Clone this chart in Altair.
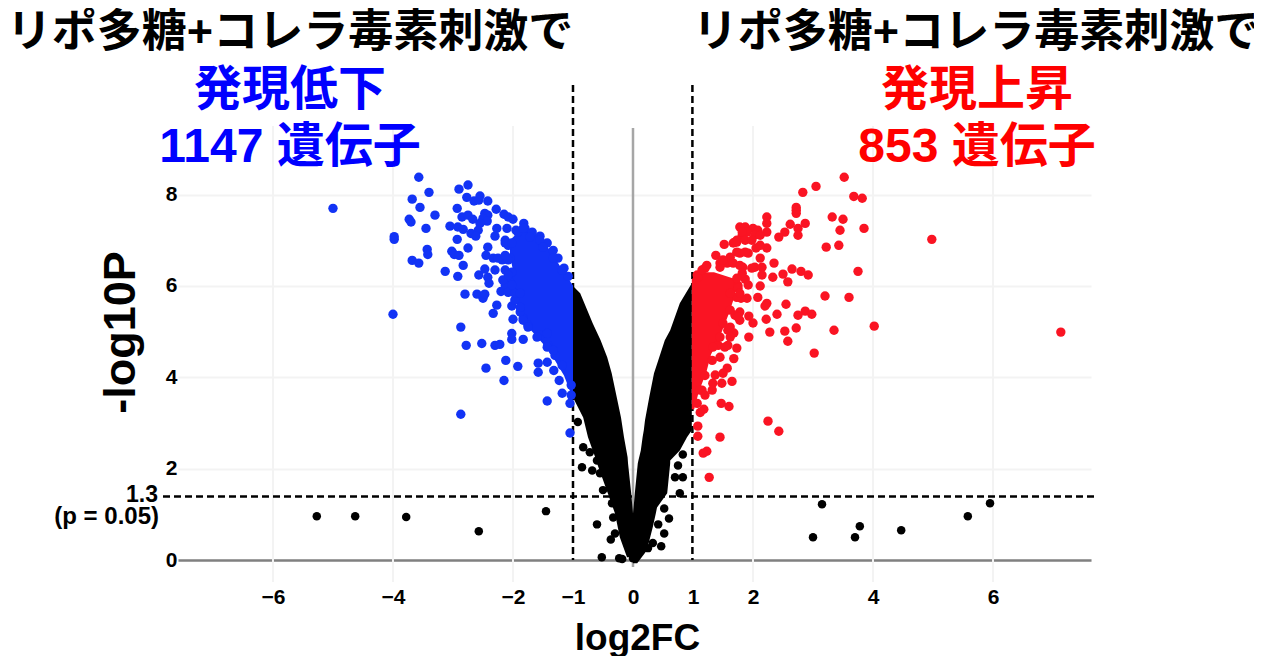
import altair as alt
import pandas as pd

FONT = "Liberation Sans, Noto Sans CJK JP"

# Individually readable points (log2FC, -log10P)
blue_x = [-5.0,-3.57,-3.40,-3.68,-3.55,-3.30,-3.73,-3.70,-3.45,-3.98,-3.98,-3.43,-3.42,-3.68,-3.57,-4.0,-2.87,-2.78,-2.52,-2.30,-2.22,-2.02,-2.02,-1.83,-2.90,-2.75,-2.77,-2.65,-2.55,-2.57,-2.42,-2.93,-2.85,-2.75,-2.67,-2.47,-2.42,-2.50,-2.43,-2.55,-2.58,-2.28,-2.15,-2.08,-2.00,-2.27,-2.30,-2.10,-3.05,-2.92,-2.83,-2.93,-2.70,-2.62,-2.75,-3.02,-2.98,-2.90,-2.42,-2.45,-2.83,-3.13,-2.92,-2.57,-2.47,-2.42,-2.40,-2.30,-2.33,-2.80,-2.60,-2.50,-2.47,-2.20,-2.27,-2.33,-2.02,-2.00,-1.83,-1.82,-2.13,-2.12,-2.45,-1.92,-2.15,-1.58,-1.58,-1.43,-1.32,-1.23,-1.18,-1.43,-1.05,-2.87,-1.05,-1.03,-1.03,-1.80,-1.68,-1.55,-1.43,-1.33,-1.25,-1.15,-1.08,-1.95,-2.08,-2.05,-2.13,-2.05,-2.13,-1.97,-1.88,-1.75,-1.55,-1.42,-1.30,-1.18,
          -2.13,-2.02,-2.18,-2.08,-2.25,-2.13,-2.02,-2.17,-2.08,-2.08,-1.97,-2.02,-1.88,-1.88,-1.83,-1.75,-1.60,-1.43,-1.43,-1.33,-1.92,-1.83,-1.72,-1.55,-1.50,-1.33,-1.18]
blue_y = [7.70,8.38,8.05,7.90,7.72,7.55,7.46,7.40,7.26,7.02,7.08,6.80,6.69,6.56,6.50,5.38,5.10,4.70,4.74,4.70,4.72,4.96,4.83,4.83,8.12,8.21,7.94,7.86,7.97,7.88,7.86,7.70,7.51,7.55,7.46,7.59,7.55,7.48,7.42,7.37,7.22,7.68,7.57,7.51,7.46,7.26,7.09,7.26,7.31,7.29,7.24,7.02,7.15,7.09,6.83,6.76,6.69,6.67,6.85,6.67,6.45,6.32,6.21,6.24,6.37,6.19,6.06,6.35,6.61,5.82,5.82,5.73,5.82,5.88,5.58,5.40,5.56,5.27,5.29,7.37,7.00,4.37,4.20,4.24,3.93,4.31,4.11,4.33,4.15,3.93,3.65,3.48,3.43,3.19,2.78,3.83,3.61,7.26,7.18,7.09,6.94,6.78,6.61,6.39,6.21,7.22,6.89,6.61,6.35,6.08,6.02,5.69,5.43,5.14,4.92,4.70,4.48,4.26,
          6.94,6.94,6.57,6.57,6.61,6.67,6.30,6.13,6.24,5.86,5.84,6.02,5.84,5.53,5.25,5.10,4.88,4.96,4.66,4.59,7.18,7.26,7.07,7.0,6.85,6.61,6.34]

red_x = [3.52,3.05,2.83,3.68,3.82,2.72,2.72,2.72,3.32,3.50,2.87,2.62,3.85,3.45,2.75,2.75,2.53,2.43,2.23,2.23,2.23,3.43,3.22,1.52,1.38,2.23,2.05,1.92,2.12,2.35,2.03,2.15,2.15,2.33,2.50,2.65,2.58,2.80,2.92,3.75,3.20,3.60,2.12,2.08,1.87,1.90,2.23,2.20,2.55,2.40,2.87,2.75,2.98,2.22,1.93,2.00,1.93,2.28,2.53,2.72,3.35,4.02,2.58,3.02,1.78,1.78,1.68,1.73,1.58,1.78,1.87,2.00,2.08,1.82,1.73,1.90,2.03,2.12,1.67,4.98,7.13,1.65,1.48,1.33,1.32,1.15,1.47,1.60,1.18,1.12,2.25,2.43,1.08,1.08,1.45,1.23,1.17,1.27,1.68,1.57,1.50,1.07,1.45,1.62,1.78,1.83,1.75,1.80,1.70,1.58,1.42,1.32,1.20,1.12,1.07,1.20,
         1.73,1.87,1.57,1.67,1.78,1.45,1.82,1.73,1.75,1.73,1.62,1.78,1.62,1.75,1.50,1.62,1.45,1.62,1.33,1.53,1.45,1.73,1.82,1.70,1.50,1.98,1.92,1.87,1.98,2.12,1.20,1.37,1.08,1.15,1.23]
red_y = [8.38,8.18,8.05,7.96,7.92,7.72,7.66,7.59,7.51,7.46,7.37,7.35,7.26,7.22,7.26,7.11,7.18,7.07,7.51,7.37,7.18,6.89,6.85,6.91,6.67,6.83,6.83,6.72,6.61,6.50,6.41,6.41,6.24,6.19,6.26,6.37,6.09,6.32,6.24,6.32,5.78,5.75,6.00,5.75,6.15,5.73,5.62,5.56,5.60,5.38,5.45,5.36,5.38,5.27,5.34,5.19,4.88,4.99,5.01,5.08,5.03,5.12,4.79,4.53,5.43,5.25,4.97,4.64,4.70,7.29,7.29,7.26,7.22,7.11,6.96,7.18,7.11,7.11,6.94,7.02,4.99,3.91,3.87,3.87,3.72,3.72,3.43,3.36,3.30,3.23,3.04,2.82,2.93,2.71,2.69,2.38,2.34,1.81,4.41,4.20,4.09,3.43,6.50,6.63,6.72,6.41,6.01,5.73,5.36,5.03,4.70,4.37,4.04,3.72,6.24,6.39,
         6.74,6.74,6.50,6.50,6.45,6.41,6.28,6.17,5.95,5.75,5.84,5.84,5.47,5.32,5.18,5.10,4.88,4.88,4.66,4.66,4.44,7.0,7.18,6.96,6.57,6.39,6.02,7.0,7.0,6.89,3.61,4.05,6.19,6.35,6.45]

black_x = [-5.27,-4.63,-3.78,-2.57,-1.45,-0.92,-0.83,-0.85,-0.72,-0.68,-0.60,-0.55,-0.50,-0.35,-0.60,-0.33,-0.30,-0.37,-0.52,-0.18,-0.23,0.83,0.83,0.70,0.75,0.67,0.78,0.52,0.60,0.42,0.52,0.47,0.33,0.25,3.15,3.0,3.70,3.78,4.47,5.58,5.95,0.0]
black_y = [0.96,0.96,0.94,0.63,1.07,3.02,2.47,2.03,2.36,1.96,2.18,1.90,1.53,1.24,0.78,0.93,0.58,0.45,0.06,0.02,0.04,2.31,1.81,1.81,2.07,2.47,1.46,1.13,0.91,0.78,0.58,0.30,0.37,0.26,1.22,0.50,0.50,0.74,0.65,0.96,1.24,0.04]

# Dense clouds where single points cannot be told apart: extent read per level
core_black_left_y  = [6.0,5.84,5.18,4.81,4.44,4.09,3.56,3.12,2.69,2.25,2.12,1.46,1.02,0.5,0.06]
core_black_left_x  = [-1.0,-1.0,-1.0,-1.0,-1.0,-1.0,-1.0,-0.83,-0.75,-0.63,-0.6,-0.42,-0.3,-0.22,-0.1]
core_black_left_x2 = [-1.0,-0.88,-0.67,-0.54,-0.43,-0.355,-0.27,-0.2,-0.15,-0.09,-0.083,-0.03,0.0,0.0,0.0]
core_black_right_y  = [6.06,5.62,5.03,4.81,4.37,4.09,3.56,3.06,2.84,2.69,2.4,2.18,2.12,1.46,1.15,1.02,0.72,0.21,-0.07]
core_black_right_x  = [0.98,0.78,0.62,0.53,0.42,0.35,0.27,0.2,0.18,0.16,0.13,0.09,0.08,0.03,0.01,0.0,0.0,0.0,0.0]
core_black_right_x2 = [0.98,0.98,0.98,0.98,0.98,0.98,0.98,0.98,0.98,0.9,0.78,0.62,0.62,0.57,0.4,0.38,0.33,0.23,0.07]
core_blue_y  = [7.2,7.0,6.67,6.34,6.01,5.68,5.25,4.88,4.66,4.37,4.04,3.7]
core_blue_x  = [-1.9,-2.05,-2.05,-2.0,-2.1,-1.95,-1.85,-1.6,-1.45,-1.3,-1.15,-1.05]
core_blue_x2 = [-1.7,-1.5,-1.33,-1.17,-1.0,-1.0,-1.0,-1.0,-1.0,-1.0,-1.0,-1.0]
core_red_y  = [6.3,6.15,5.8,5.4,4.9,4.5,4.1,3.7,3.3]
core_red_x  = [1.15,0.98,0.98,0.98,0.98,0.98,0.98,0.98,0.98]
core_red_x2 = [1.35,1.7,1.7,1.6,1.45,1.3,1.22,1.1,1.02]

x_ticks = [-6,-4,-2,-1,0,1,2,4,6]
y_ticks = [0,2,4,6,8]
grid_x = [-6,-4,-2,2,4,6]

XD = [-7.583, 7.633]
YD = [0, 8.517]
xs = alt.Scale(domain=XD, nice=False, zero=False)
ys = alt.Scale(domain=YD, nice=False, zero=False)

BLUE = "#1233f5"
RED = "#fa1423"

def pts(xv, yv, color, size=88):
    return alt.Chart(pd.DataFrame({"x": xv, "y": yv})).mark_circle(size=size, opacity=1, color=color).encode(
        x=alt.X("x:Q", scale=xs), y=alt.Y("y:Q", scale=ys))

def core(yv, xv, x2v, color):
    return alt.Chart(pd.DataFrame({"y": yv, "x": xv, "x2": x2v})).mark_area(orient="horizontal", color=color, opacity=1).encode(
        y=alt.Y("y:Q", scale=ys), x=alt.X("x:Q", scale=xs), x2="x2:Q")

def label(text, x, y, size, color="black", align="center"):
    return alt.Chart(pd.DataFrame({"t": [text]})).mark_text(
        font=FONT, fontWeight="bold", fontSize=size, color=color, align=align, baseline="middle"
    ).encode(text="t:N", x=alt.value(x), y=alt.value(y))

base = alt.Chart(pd.DataFrame({"x": x_ticks})).mark_rule(opacity=0).encode(
    x=alt.X("x:Q", scale=xs, axis=alt.Axis(
        values=x_ticks, format="d", grid=False, ticks=False, domainColor="#808080", domainWidth=2.5,
        labelFont=FONT, labelFontWeight="bold", labelFontSize=21, labelColor="black", labelPadding=26, labelFlush=False,
        labelOverlap=False,
        title="log2FC", titleFont=FONT, titleFontWeight="bold", titleFontSize=37, titleColor="black",
        titleX=459, titleY=78, titleBaseline="middle", titleAlign="center")),
    y=alt.Y("y0:Q", scale=ys, axis=alt.Axis(
        values=y_ticks, grid=True, gridColor="#f3f3f3", gridWidth=2, ticks=False, domain=False,
        labelFont=FONT, labelFontWeight="bold", labelFontSize=21, labelColor="black", labelPadding=1,
        title="-log10P", titleFont=FONT, titleFontWeight="bold", titleFontSize=45, titleColor="black",
        titleX=-58, titleY=161, titleBaseline="middle", titleAlign="center", titleAngle=270)),
).transform_calculate(y0="0")

vgrid = alt.Chart(pd.DataFrame({"x": grid_x})).mark_rule(color="#f3f3f3", strokeWidth=2).encode(
    x=alt.X("x:Q", scale=xs), y=alt.value(-45), y2=alt.value(411))
center = alt.Chart(pd.DataFrame({"x": [0]})).mark_rule(color="#a6a6a6", strokeWidth=2.5).encode(
    x=alt.X("x:Q", scale=xs), y=alt.value(-43), y2=alt.value(396))

dash = dict(color="black", strokeWidth=2.5, strokeDash=[7, 4])
vdash = alt.Chart(pd.DataFrame({"x": [-1, 0.99]})).mark_rule(**dash).encode(
    x=alt.X("x:Q", scale=xs), y=alt.value(-86), y2=alt.value(389))
hdash = alt.Chart(pd.DataFrame({"y": [1.39]})).mark_rule(**dash).encode(
    y=alt.Y("y:Q", scale=ys), x=alt.value(-15), x2=alt.value(919))

texts = [
    label("リポ多糖+コレラ毒素刺激で", 112, -138, 45),
    label("リポ多糖+コレラ毒素刺激で", 798, -138, 45),
    label("発現低下", 112, -80, 48, "#0000ff"),
    label("1147 遺伝子", 112, -23, 48, "#0000ff"),
    label("発現上昇", 799, -80, 48, "#ff0000"),
    label("853 遺伝子", 799, -23, 48, "#ff0000"),
    label("1.3", -20, 324, 23, align="right"),
    label("(p = 0.05)", -19, 346, 24, align="right"),
]

chart = alt.layer(
    base, vgrid, center,
    core(core_black_left_y, core_black_left_x, core_black_left_x2, "black"),
    core(core_black_right_y, core_black_right_x, core_black_right_x2, "black"),
    pts(black_x, black_y, "black", 72),
    vdash, hdash,
    core(core_blue_y, core_blue_x, core_blue_x2, BLUE),
    core(core_red_y, core_red_x, core_red_x2, RED),
    pts(blue_x, blue_y, BLUE),
    pts(red_x, red_y, RED),
    *texts,
).properties(
    width=913, height=389, background="white",
    autosize=alt.AutoSizeParams(type="none"),
    padding={"left": 170, "top": 163, "right": 163, "bottom": 96},
).configure_view(stroke=None)

chart.save("out.html", embed_options={"renderer": "svg", "actions": False})
